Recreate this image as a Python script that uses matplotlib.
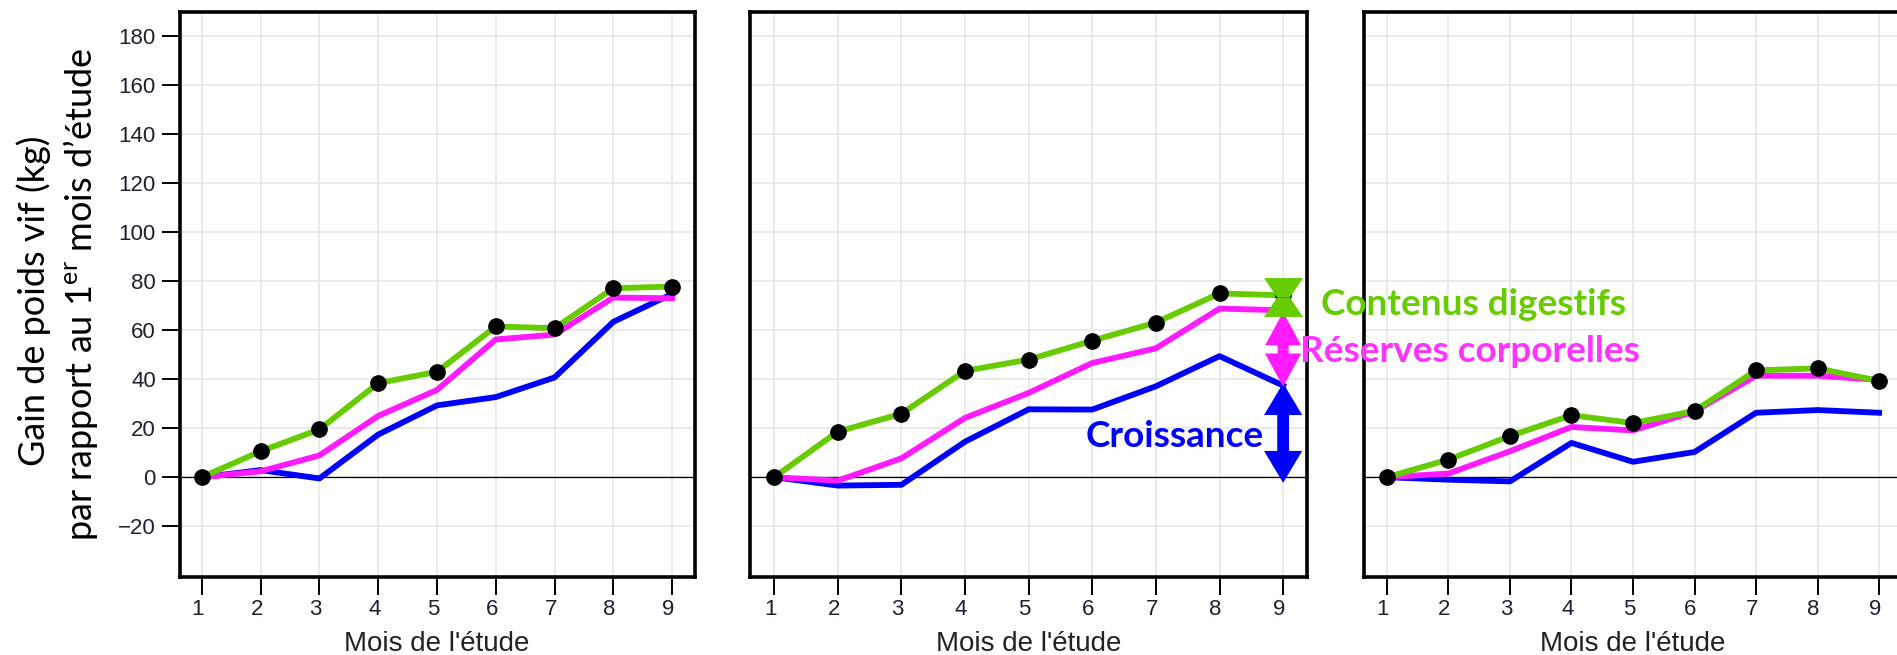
import matplotlib
matplotlib.use("Agg")
import matplotlib.pyplot as plt
from matplotlib.transforms import ScaledTranslation, blended_transform_factory

plt.rcParams['font.family'] = ['Liberation Sans', 'DejaVu Sans']
plt.rcParams['mathtext.fontset'] = 'custom'
plt.rcParams['mathtext.rm'] = 'Lato'
plt.rcParams['mathtext.it'] = 'Lato:italic'
plt.rcParams['mathtext.bf'] = 'Lato:bold'

# ---------------- data ----------------
months = [1, 2, 3, 4, 5, 6, 7, 8, 9]
month_labels = ['1', '2', '3', '4', '5', '6', '7', '8', '9']
yticks = [-20, 0, 20, 40, 60, 80, 100, 120, 140, 160, 180]
ytick_labels = ['\u221220', '0', '20', '40', '60', '80', '100', '120', '140', '160', '180']

# Panel 1
p1_contenus = [0, 10.6, 19.5, 38.4, 43.0, 61.5, 60.8, 77.1, 77.8]
p1_reserves = [0, 2.4, 8.9, 25.0, 35.6, 56.2, 58.2, 73.3, 73.0]
p1_croissance = [0, 2.9, -0.5, 17.4, 29.3, 32.7, 40.7, 63.4, 74.8]
# Panel 2
p2_contenus = [0, 18.6, 25.9, 43.4, 48.0, 55.7, 63.1, 75.0, 74.2]
p2_reserves = [0, -1.4, 7.7, 24.2, 34.4, 46.6, 52.6, 68.8, 68.1]
p2_croissance = [0, -3.4, -3.1, 14.5, 27.7, 27.6, 37.1, 49.4, 37.4]
# Panel 3
p3_contenus = [0, 7.2, 16.8, 25.3, 22.1, 27.0, 43.6, 44.4, 39.3]
p3_reserves = [0, 1.5, 10.6, 20.5, 19.1, 26.8, 41.4, 41.4, 39.7]
p3_croissance = [0, -1.0, -1.7, 14.0, 6.3, 10.3, 26.3, 27.4, 26.3]

series = [
    (p1_croissance, p1_reserves, p1_contenus),
    (p2_croissance, p2_reserves, p2_contenus),
    (p3_croissance, p3_reserves, p3_contenus),
]

xlabel_text = "Mois de l'\u00e9tude"
ylabel_line1 = "Gain de poids vif (kg)"
ylabel_line2 = "par rapport au 1$^{\\mathrm{er}}$ mois d\u2019\u00e9tude"
lbl_contenus = "Contenus digestifs"
lbl_reserves = "R\u00e9serves corporelles"
lbl_croissance = "Croissance"

# ---------------- style ----------------
GREEN = '#66CC00'
MAGENTA = '#FF1AFF'
MAGENTA_TXT = '#FF33FF'
BLUE = '#0000FF'
TICKCOL = '#1f1f33'

W, H = 1897, 655
fig = plt.figure(figsize=(W / 100, H / 100), dpi=100)


def px_rect(l, r, t, b):
    return [l / W, 1 - b / H, (r - l) / W, (b - t) / H]


rects = [
    px_rect(179.5, 694.5, 11.5, 576.5),
    px_rect(750.0, 1307.3, 11.5, 576.5),
    px_rect(1363.5, 1902.5, 11.5, 576.5),
]

axes = []
for i, (rect, (cro, res, con)) in enumerate(zip(rects, series)):
    ax = fig.add_axes(rect)
    ax.set_xlim(0.62, 9.38)
    ax.set_ylim(-40.5, 190)
    ax.set_xticks(months)
    ax.set_xticklabels(month_labels)
    ax.set_yticks(yticks)
    ax.grid(True, color='#E6E6E6', lw=1.2)
    ax.set_axisbelow(True)
    ax.axhline(0, color='black', lw=0.9, zorder=1.5)
    ax.plot(months, cro, color=BLUE, lw=4.2, zorder=2)
    ax.plot(months, res, color=MAGENTA, lw=4.2, zorder=3)
    ax.plot(months, con, color=GREEN, lw=4.2, zorder=4,
            marker='o', ms=11, mfc='black', mec='black')
    for s in ax.spines.values():
        s.set_linewidth(2.6)
        s.set_color('black')
    ax.tick_params(axis='x', length=13, width=1.4, pad=3, labelsize=16,
                   labelcolor=TICKCOL, direction='out')
    for lab in ax.get_xticklabels():
        lab.set_transform(lab.get_transform() + ScaledTranslation(-4 / 100, 0, fig.dpi_scale_trans))
    if i == 0:
        ax.set_yticklabels(ytick_labels)
        ax.tick_params(axis='y', length=13, width=1.4, pad=4, labelsize=16,
                       labelcolor=TICKCOL, direction='out')
    else:
        ax.tick_params(axis='y', length=0, labelleft=False)
    tr = blended_transform_factory(ax.transAxes, fig.transFigure)
    ax.text(0.5, 4 / H, xlabel_text, transform=tr, ha='center', va='baseline',
            fontsize=20, color='#222222')
    axes.append(ax)

# ---------------- annotations on panel 2 ----------------
ax2 = axes[1]
x_end = months[-1]


def double_arrow(ax, x, y0, y1, color, hl, hw, tw):
    mid = (y0 + y1) / 2
    style = f"simple,head_length={hl},head_width={hw},tail_width={tw}"
    for tip in (y0, y1):
        ax.annotate('', xy=(x, tip), xytext=(x, mid),
                    arrowprops=dict(arrowstyle=style, fc=color, ec='none', lw=0,
                                    shrinkA=0, shrinkB=0, mutation_scale=1),
                    annotation_clip=False, zorder=6)


double_arrow(ax2, x_end, -2.3, p2_croissance[-1] + 1.0, BLUE, 23, 27.5, 8.5)
double_arrow(ax2, x_end, p2_croissance[-1] - 0.5, p2_reserves[-1] - 0.7, MAGENTA, 24, 26, 8)

# hourglass (two trapezoids meeting at a narrow waist)
top_half = [(-1, 1), (1, 1), (0.33, 0), (-0.33, 0)]
bottom_half = [(-1, -1), (1, -1), (0.33, 0), (-0.33, 0)]
pinch = p2_contenus[-1] - 0.6
for verts in (top_half, bottom_half):
    ax2.plot([x_end], [pinch], marker=verts, ms=28, color=GREEN, mec='none',
             linestyle='none', zorder=7, clip_on=False)

TXT_SIZE = 26.6
fig.text(1473.8 / W, 1 - 315 / H, lbl_contenus, color=GREEN, fontsize=TXT_SIZE,
         fontweight='bold', family='Lato', ha='center', va='baseline', zorder=10)
fig.text(1470.0 / W, 1 - 361.7 / H, lbl_reserves, color=MAGENTA_TXT, fontsize=TXT_SIZE,
         fontweight='bold', family='Lato', ha='center', va='baseline', zorder=10)
fig.text(1175.0 / W, 1 - 446.7 / H, lbl_croissance, color=BLUE, fontsize=TXT_SIZE,
         fontweight='bold', family='Lato', ha='center', va='baseline', zorder=10)

# ---------------- y label (two lines) ----------------
fig.text(45 / W, 1 - 300.5 / H, ylabel_line1, rotation=90, rotation_mode='anchor',
         ha='center', va='baseline', family='Lato', fontsize=26, color='black')
fig.text(92 / W, 1 - 294.5 / H, ylabel_line2, rotation=90, rotation_mode='anchor',
         ha='center', va='baseline', family='Lato', fontsize=26, color='black')

fig.savefig('out.png', dpi=100)
